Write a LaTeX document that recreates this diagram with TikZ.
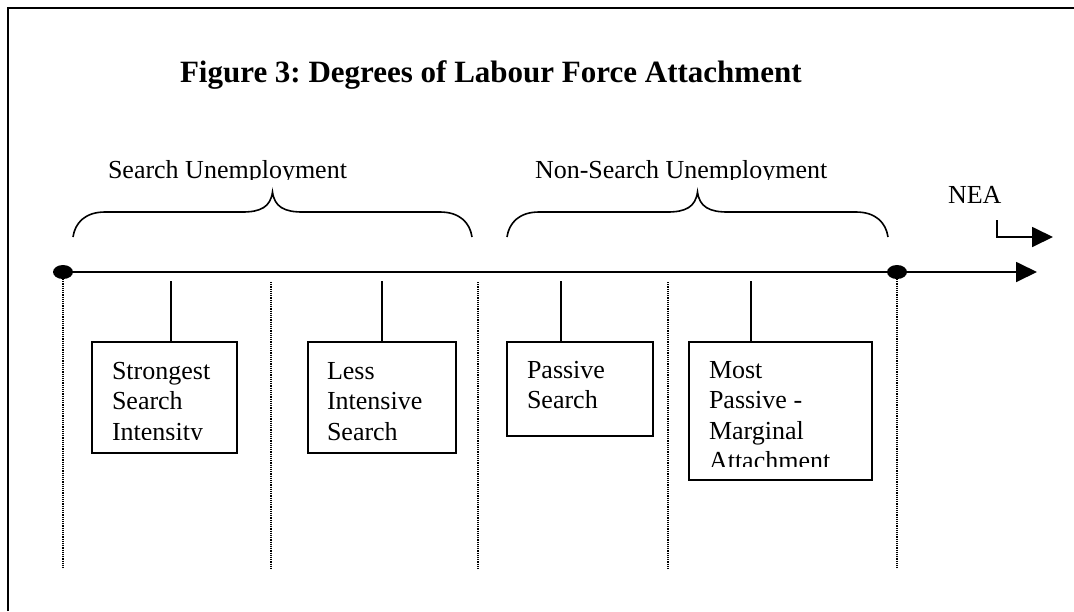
\documentclass[tikz,border=0pt]{standalone}
\usepackage{fontspec}
\setmainfont{Liberation Serif}
\usetikzlibrary{arrows.meta,shapes.geometric}
\frenchspacing
% stacked lines, first baseline is the node's baseline
\newcommand\boxlines[1]{\begin{tabular}[t]{@{}l@{}}#1\end{tabular}}
\begin{document}
\begin{tikzpicture}[x=1pt,y=-1pt,
  every node/.style={inner sep=0pt,outer sep=0pt},
  lbl/.style={font=\fontsize{26}{30.5}\selectfont,anchor=base west},
  ttl/.style={font=\bfseries\fontsize{31}{36}\selectfont,anchor=base west},
  stagebox/.style={draw,line width=1.8pt,rectangle,anchor=north west},
  dotmark/.style={ellipse,fill=black,minimum width=20pt,minimum height=14pt},
  axisline/.style={line width=1.8pt,-{Triangle[length=21pt,width=20pt]}},
  stem/.style={line width=1.8pt},
  guide/.style={line width=1.2pt,dash pattern=on 1.1pt off 1.1pt},
  pics/curly/.style={code={
    \draw[line width=1.6pt]
      (0,0) .. controls (2,-14) and (12,-25) .. (32,-25)
      -- ({#1/2-30},-25) .. controls ({#1/2-12},-25) and ({#1/2-2},-30) .. ({#1/2},-45)
      .. controls ({#1/2+2},-30) and ({#1/2+12},-25) .. ({#1/2+30},-25)
      -- ({#1-32},-25) .. controls ({#1-12},-25) and ({#1-2},-14) .. (#1,0);
  }}
]
\useasboundingbox (0,0) rectangle (1074,611);

% outer frame
\draw[line width=2.5pt] (8,611) -- (8,8) -- (1074,8);

% title
\node[ttl] (title) at (180,82) {Figure 3: Degrees of Labour Force Attachment};

% group headings (descenders cut off as in the original text boxes)
\begin{scope}
  \clip (0,100) rectangle (1074,179.5);
  \node[lbl] (hsearch) at (108,178) {Search Unemployment};
  \node[lbl] (hnonsearch) at (535,178) {Non-Search Unemployment};
\end{scope}
\node[lbl] (nea) at (948,203) {NEA};

% braces over the two groups
\pic at (73,237) {curly=399};
\pic at (507,237) {curly=381};

% main axis with end markers
\node[dotmark] (dL) at (63,272) {};
\coordinate (axEnd) at (1037,272);
\draw[axisline] (dL.center) -- (axEnd);
\node[dotmark] (dR) at (897,272) {};

% NEA bent arrow
\coordinate (neaA) at (997,220);
\coordinate (neaB) at (1053,237);
\draw[axisline] (neaA) |- (neaB);

% dotted separators
\coordinate (floor) at (0,569);
\coordinate (g2) at (271,282);
\coordinate (g3) at (478,282);
\coordinate (g4) at (668,282);
\draw[guide] (dL.south) -- (dL.south |- floor);
\draw[guide] (g2) -- (g2 |- floor);
\draw[guide] (g3) -- (g3 |- floor);
\draw[guide] (g4) -- (g4 |- floor);
\draw[guide] (dR.south) -- (dR.south |- floor);

% stage boxes
\node[stagebox,minimum width=145pt,minimum height=111pt] (b1) at (92,342) {};
\node[stagebox,minimum width=148pt,minimum height=111pt] (b2) at (308,342) {};
\node[stagebox,minimum width=146pt,minimum height=94pt] (b3) at (507,342) {};
\node[stagebox,minimum width=183pt,minimum height=138pt] (b4) at (689,342) {};

% stems from the axis to the boxes
\coordinate (s1) at (171,281);
\coordinate (s2) at (382,281);
\coordinate (s3) at (561,281);
\coordinate (s4) at (751,281);
\draw[stem] (s1) -- (s1 |- b1.north);
\draw[stem] (s2) -- (s2 |- b2.north);
\draw[stem] (s3) -- (s3 |- b3.north);
\draw[stem] (s4) -- (s4 |- b4.north);

% box texts
\begin{scope}
  \clip (b1.north west) rectangle (237,439.5);
  \node[lbl] (t1) at (112,379) {\boxlines{Strongest\\Search\\Intensity}};
\end{scope}
\node[lbl] (t2) at (327,379) {\boxlines{Less\\Intensive\\Search}};
\node[lbl] (t3) at (527,378) {\boxlines{Passive\\Search}};
\begin{scope}
  \clip (b4.north west) rectangle (872,466);
  \node[lbl] (t4) at (709,378) {\boxlines{Most\\Passive -\\Marginal\\Attachment}};
\end{scope}
\end{tikzpicture}
\end{document}
